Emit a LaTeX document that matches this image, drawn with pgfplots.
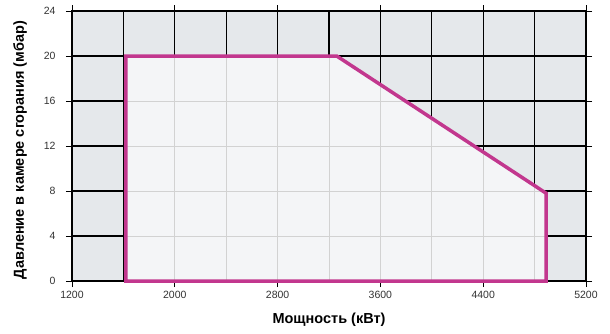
\documentclass[border=0pt]{standalone}
\usepackage{fontspec}
\setmainfont{Liberation Sans}
\usepackage{pgfplots}
\pgfplotsset{compat=1.18}
\definecolor{bg}{HTML}{E5E8EB}
\definecolor{fillc}{HTML}{F4F5F7}
\definecolor{mag}{HTML}{C2378E}
\definecolor{lgrid}{HTML}{D2D2D2}
\begin{document}
\begin{tikzpicture}
\begin{axis}[
 scale only axis, width=514pt, height=270pt,
 xmin=1200,xmax=5200,ymin=0,ymax=24,
 xtick={1200,2000,...,5200},
 minor xtick={1600,2400,...,4800},
 ytick={0,4,...,24},
 grid=both,
 major grid style={black, line width=1.2pt},
 minor grid style={black, line width=1.2pt},
 axis line style={black, line width=1.2pt},
 tick align=outside,
 major tick length=6pt, minor tick length=0pt,
 tick style={black, line width=0.8pt},
 axis background/.style={fill=bg},
 clip=false,
 tick label style={font=\fontsize{10.5}{12}\selectfont, text=black!80},
 xticklabel style={yshift=-1pt},
 yticklabel style={xshift=-7pt},
 /pgf/number format/assume math mode=true,
 /pgf/number format/1000 sep={},
 xlabel={Мощность (кВт)}, ylabel={Давление в камере сгорания (мбар)},
 every axis x label/.style={at={(axis description cs:0.5,-0.144)}, anchor=center, font=\fontsize{14.5}{16}\selectfont\bfseries},
 every axis y label/.style={at={(axis description cs:-0.101,0.485)}, anchor=center, rotate=90, font=\fontsize{14.5}{16}\selectfont\bfseries},
]
\addplot[fill=fillc, draw=none] coordinates {(1620,0)(1620,20)(3260,20)(4890,7.8)(4890,0)} -- cycle;
\addplot[lgrid, line width=1pt] coordinates {(2000,0)(2000,20)};
\addplot[lgrid, line width=1pt] coordinates {(2400,0)(2400,20)};
\addplot[lgrid, line width=1pt] coordinates {(2800,0)(2800,20)};
\addplot[lgrid, line width=1pt] coordinates {(3200,0)(3200,20)};
\addplot[lgrid, line width=1pt] coordinates {(3600,0)(3600,17.46)};
\addplot[lgrid, line width=1pt] coordinates {(4000,0)(4000,14.46)};
\addplot[lgrid, line width=1pt] coordinates {(4400,0)(4400,11.47)};
\addplot[lgrid, line width=1pt] coordinates {(4800,0)(4800,8.47)};
\addplot[lgrid, line width=1pt] coordinates {(1620,4)(4890,4)};
\addplot[lgrid, line width=1pt] coordinates {(1620,8)(4863,8)};
\addplot[lgrid, line width=1pt] coordinates {(1620,12)(4329,12)};
\addplot[lgrid, line width=1pt] coordinates {(1620,16)(3794,16)};
\addplot[mag, line width=3.5pt, line join=miter] coordinates {(1620,0)(1620,20)(3260,20)(4890,7.8)(4890,0)} -- cycle;
\end{axis}
\pgfresetboundingbox
\path ([shift={(-72pt,-52pt)}]current axis.south west) rectangle ([shift={(24pt,11pt)}]current axis.north east);
\end{tikzpicture}
\end{document}
